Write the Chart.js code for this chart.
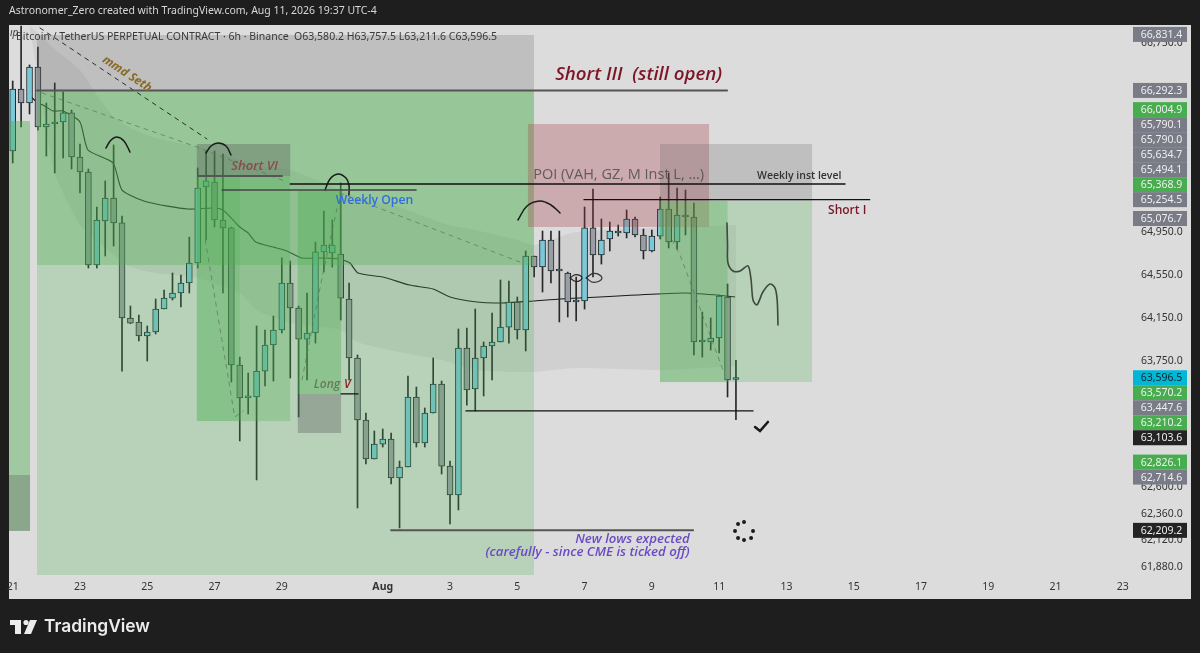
<!DOCTYPE html>
<html><head><meta charset="utf-8">
<style>html,body{margin:0;padding:0;background:#1e1e1e}canvas{display:block}</style>
<script src="https://cdn.jsdelivr.net/npm/chart.js@4"></script></head>
<body><canvas id="c" width="1200" height="653"></canvas>
<script>
// ---------- candles (6h, index 0 = Jul 21 00:00) ----------
const open =[65715,66306,66172,66517,65943,65972,65991,66077,65658,65516,64641,65053,65270,65035,64148,64111,63981,64018,64231,64333,64380,64473,64660,65374,65421,65063,64988,63714,63411,63420,63658,63898,64037,64473,64241,63953,64009,64763,64753,64744,64324,63778,63209,62854,62990,63036,62682,62781,63420,63000,63273,63539,62790,62528,63870,63493,63778,63889,63926,64064,64296,64037,64725,64622,64875,64585,64566,64296,64306,64988,64735,64884,64941,64941,65072,64922,64772,64912,65166,64856,65091,65091,63926,63926,63963,64343,63580.2];
const high =[66383,66912,66537,66710,66172,66364,66278,66105,65781,65544,65185,65431,65772,65100,64259,64176,64074,64324,64408,64566,64548,64903,65554,65715,65715,65686,64995,63787,63640,64074,64037,64166,64707,64678,64259,64380,64856,65147,65063,65412,64473,63806,63273,63109,63127,63091,62836,63612,63511,63319,63778,63566,62836,64046,64055,64231,63926,64194,64501,64492,64343,64772,64725,64959,64959,64959,64575,64529,65185,65355,65072,65044,65016,65157,65091,64978,64969,65279,65506,65364,65345,65223,64203,64148,64361,64464,63757.5];
const low  =[65601,65943,66067,65914,65667,65506,65648,65544,65317,64613,64613,64725,64819,63658,64095,63935,63750,64000,64231,64315,64250,64380,64613,64875,64997,64380,63557,63018,63264,62664,63521,63566,64009,63594,63237,63576,63916,64576,64622,64129,63576,62411,62809,62854,62963,62628,62231,62781,62963,62963,63273,62718,62267,62393,63346,63292,63429,63576,63926,63916,63953,63843,64529,64389,64473,64111,64157,64120,64231,64529,64650,64772,64912,64894,64903,64697,64763,64884,64800,64790,64922,63806,63787,63852,63824,63420,63211.6];
const close=[66306,66172,66517,65943,65972,65991,66077,65658,65516,64641,65063,65270,65035,64148,64101,63981,64018,64231,64333,64380,64473,64660,65364,65431,65063,64988,63714,63411,63420,63658,63898,64037,64473,64241,63953,64009,64763,64828,64828,64333,63778,63209,62854,62990,63036,62682,62781,63420,63000,63273,63539,62790,62528,63870,63484,63778,63889,63926,64064,64296,64037,64725,64622,64875,64585,64594,64296,64306,64988,64735,64875,64959,64959,65072,64922,64772,64912,65166,64856,65110,65100,63926,63935,63963,64352,63576,63596.5];

// ---------- axis ticks ----------
const xTickLabels=["21","23","25","27","29","Aug","3","5","7","9","11","13","15","17","19","21","23"];
const xTickIndex=[0,8,16,24,32,44,52,60,68,76,84,92,100,108,116,124,132];
const yTicks=[66750,64950,64550,64150,63750,62600,62360,62120,61880];

// ---------- moving average ----------
const maIdx=[1.94,3,3.6,4.8,6,8,8.95,11.93,13,16,20.85,23.8,25,26.2,27,28,28.9,30.95,32.6,34.4,36.9,38.9,40.1,41.05,44,47.2,50,52,55.2,57.9,61.9,65.1,79.7,83.75,85.9];
const maVal=[66249,66172,66153,66096,66096,65991,65724,65601,65345,65232,65166,65176,65157,65063,64997,64941,64856,64809,64772,64707,64707,64697,64660,64566,64529,64454,64417,64343,64296,64287,64306,64324,64380,64361,64343];

// ---------- cloud band ----------
const bandIdx=[2,3,5,8,10,12,14,17,22,27,29,33,39,41,46,51,55,60,62,67,77,86];
const bandUp =[66912,66845,66691,66489,66249,66039,65934,65838,65753,65629,65582,65535,65345,65279,65185,65035,64969,64875,64828,64950,64988,65016];
const bandLow=[66912,66421,65506,65016,64875,64735,64622,64566,64520,64380,64222,64101,64037,63926,63833,63760,63668,63649,63649,63686,63668,63704];

// ---------- position zones ----------
const zoneLeft  =[2.89,2.89,2.89,-0.44,-0.44,21.9,21.9,21.9,33.9,33.9,61.27,76.97,76.97,76.97];
const zoneRight =[61.98,61.98,61.98,2.06,2.06,33,33,27,39.05,39.05,82.8,95.05,95.05,85];
const zoneTop   =[66287,66287,66826,66000,62709,65781,65478,65478,65345,63447,65972,65781,65242,65242];
const zoneBottom=[61809,64641,66287,62204,62204,65478,63200,63200,63447,63091,64997,65242,63557,63557];
const zoneFill=["rgba(76,175,80,.25)","rgba(76,175,80,.31)","rgba(90,90,90,.22)","rgba(76,175,80,.42)","rgba(90,90,90,.3)","rgba(90,90,90,.35)","rgba(76,175,80,.3)","rgba(76,175,80,.2)","rgba(76,175,80,.4)","rgba(90,90,90,.35)","rgba(170,60,70,.3)","rgba(90,90,90,.22)","rgba(76,175,80,.25)","rgba(76,175,80,.3)"];

// ---------- horizontal levels ----------
const levelFrom =[2.89,33,24.9,22.03,67.93,53.9,45,39.05];
const levelTo   =[84.94,98.97,47.96,32.02,101.9,88.03,80.9,41.06];
const levelPrice=[66292.3,65402,65345,65478,65254.5,63292,62209.2,63447.6];
const levelColor=["#555","#111","#444","#555","#111","#111","#555","#111"];
const levelWidth=[2,1.3,1.5,2,1.3,1.3,2,1.3];

// ---------- hand-drawn strokes [index, price] ----------
const arcA=[[11.09,65743],[11.69,65819],[12.4,65848],[13.23,65810],[13.95,65705]];
const arcB=[[22.98,65696],[23.58,65762],[24.41,65791],[25.36,65762],[25.96,65677]];
const arcC=[[37.14,65345],[37.73,65449],[38.68,65497],[39.63,65459],[39.98,65393],[39.98,65298]];
const arcD=[[60.08,65063],[61.16,65195],[62.7,65242],[64,65204],[65.08,65129]];
const squiggle=[[84.93,65035],[85,64828],[85.05,64660],[85.65,64585],[86.5,64585],[87.43,64632],[87.8,64501],[88.03,64315],[88.5,64269],[89.2,64389],[90.05,64464],[90.65,64426],[90.9,64315],[91,64083]];
const tick=[[88.27,63145],[88.86,63109],[89.8,63191]];
const ringA=[[66.27,64520],[66.98,64552],[67.69,64520],[66.98,64487],[66.27,64520]];
const ringB=[[68.17,64520],[69.12,64562],[70.07,64520],[69.12,64478],[68.17,64520]];
const dots=[[86.96,62285],[86.25,62267],[85.89,62204],[86.25,62141],[86.96,62123],[87.8,62141],[88.03,62204]];
const dashMmd=[[3.25,66893],[23.1,65829]];
const dashA=[[3.48,66268],[21.9,65753],[32.6,65421]];
const dashB=[[38.9,65317],[60.3,64669]];
const dashC=[[22.9,64875],[26.4,63237],[27.4,63290]];
const dashD=[[34.4,63576],[36.8,64529],[38.6,65185]];
const dashE=[[78.4,64875],[79.35,64735],[84.46,63668]];

// ---------- price tags ----------
const tagPrice=[66831.4,66292.3,66004.9,65790.1,65790.0,65634.7,65494.1,65368.9,65254.5,65076.7,63596.5,63570.2,63447.6,63210.2,63103.6,62826.1,62714.6,62209.2];
const tagKind =["g","g","v","g","g","g","g","v","g","g","c","v","g","v","k","v","g","k"];
const tagFill={g:"#797b87",v:"#47ad4f",c:"#00b7d6",k:"#232323"};
const lastPrice=63596.5;

// ---------- notes ----------
const noteText=["Short III  (still open)","mmd Seth","Short VI","Weekly Open","POI (VAH, GZ, M Inst L, ...)","Weekly inst level","Short I","Long","V","New lows expected","(carefully - since CME is ticked off)"];
const noteIdx=[64.5,13.6,26,38.4,61.9,88.5,96.95,35.8,39.4,80.5,80.5];
const notePrice=[66440,66450,65573,65242,65487,65478,65147,63530,63530,62132,62016];
const noteFont=["italic 600 18.7px 'Open Sans'","italic 700 11.8px 'Open Sans'","italic 600 13px 'Open Sans'","600 12.2px 'Open Sans'","14.5px 'Open Sans'","600 10.5px 'Open Sans'","600 12px 'Open Sans'","italic 600 12px 'Open Sans'","italic 600 12px 'Open Sans'","italic 600 13.2px 'Open Sans'","italic 600 13.2px 'Open Sans'"];
const noteColor=["#7c1626","#8a6a22","#8a4a4e","#2f6ee0","rgba(70,70,70,.8)","#333","#7c1626","#6b7a5a","#8a2020","#6a4bc4","#6a4bc4"];
const noteAlign=["left","center","left","left","left","left","left","left","left","right","right"];
const noteAngle=[0,33,0,0,0,0,0,0,0,0,0];

const headerText="Astronomer_Zero created with TradingView.com, Aug 11, 2026 19:37 UTC-4";
const legendText="Bitcoin / TetherUS PERPETUAL CONTRACT · 6h · Binance  O63,580.2 H63,757.5 L63,211.6 C63,596.5";

const axisFont="'Noto Sans'";
const xy=a=>a.map(p=>({x:p[0],y:p[1]}));
const stroke=(pts,color,width,dash,tension,ord)=>({type:"line",data:xy(pts),borderColor:color,borderWidth:width,borderDash:dash||[],tension:tension||0,pointRadius:0,fill:false,order:ord||1,borderCapStyle:"round"});
const idx=open.map((_,i)=>i);
const upColor="#7cc8d8",downColor="#9a9da3";

const datasets=[
 {type:"line",data:bandIdx.map((x,i)=>({x,y:bandUp[i]})),borderWidth:0,pointRadius:0,tension:.2,fill:"+1",backgroundColor:"rgba(90,90,90,.09)",order:20},
 {type:"line",data:bandIdx.map((x,i)=>({x,y:bandLow[i]})),borderWidth:0,pointRadius:0,tension:.2,fill:false,order:20},
 {type:"line",data:maIdx.map((x,i)=>({x,y:maVal[i]})),borderColor:"#1a1a1a",borderWidth:1.1,pointRadius:0,tension:.2,fill:false,order:12},
 {type:"bar",data:idx.map(i=>({x:i,y:[low[i],high[i]]})),backgroundColor:"#26282a",barThickness:1,grouped:false,order:11},
 {type:"bar",data:idx.map(i=>({x:i,y:[open[i],close[i]]})),backgroundColor:idx.map(i=>close[i]>=open[i]?upColor:downColor),borderColor:"#1f292b",borderWidth:1,borderSkipped:false,barThickness:6,grouped:false,minBarLength:2,order:10},
];
levelPrice.forEach((p,i)=>datasets.push(stroke([[levelFrom[i],p],[levelTo[i],p]],levelColor[i],levelWidth[i])));
[arcA,arcB,arcC,arcD].forEach(a=>datasets.push(stroke(a,"#1a1a1a",1.5,null,.4)));
datasets.push(stroke(squiggle,"#3d4a3d",1.6,null,.3));
datasets.push(stroke(tick,"#1a1a1a",2.6));
datasets.push(stroke(ringA,"#222",1.2,null,.5));
datasets.push(stroke(ringB,"#333",1.2,null,.5));
datasets.push(stroke(dashMmd,"#2c2c2c",1,[4,5]));
[dashA,dashB,dashC,dashD,dashE].forEach(a=>datasets.push(stroke(a,"rgba(95,120,95,.75)",1,[4,5])));
datasets.push({type:"scatter",data:xy(dots),pointRadius:2,pointBackgroundColor:"#1a1a1a",pointBorderWidth:0,showLine:false,order:1});

const paneZones={id:"paneZones",
 beforeDraw(ch){
  const g=ch.ctx,a=ch.chartArea,x=ch.scales.x,y=ch.scales.y;
  g.save();g.fillStyle="#1e1e1e";g.fillRect(0,0,ch.width,ch.height);
  g.fillStyle="#dcdcdc";g.fillRect(a.left,a.top,y.right-a.left,x.bottom-a.top);g.restore();
 },
 afterDatasetDraw(ch,args){
  if(args.index!==4)return;
  const g=ch.ctx,x=ch.scales.x,y=ch.scales.y;
  g.save();
  zoneLeft.forEach((_,i)=>{
   const l=x.getPixelForValue(zoneLeft[i]),r=x.getPixelForValue(zoneRight[i]);
   const t=y.getPixelForValue(zoneTop[i]),b=y.getPixelForValue(zoneBottom[i]);
   g.fillStyle=zoneFill[i];g.fillRect(l,t,r-l,b-t);
  });
  g.restore();
 },
 afterDraw(ch){
  const g=ch.ctx,x=ch.scales.x,y=ch.scales.y;
  g.save();
  noteText.forEach((s,i)=>{
   g.save();
   g.translate(x.getPixelForValue(noteIdx[i]),y.getPixelForValue(notePrice[i]));
   g.rotate(noteAngle[i]*Math.PI/180);
   g.font=noteFont[i];g.fillStyle=noteColor[i];g.textAlign=noteAlign[i];g.textBaseline="middle";
   g.fillText(s,0,0);g.restore();
  });
  const pos=tagPrice.map(p=>y.getPixelForValue(p));
  const anchor=tagPrice.indexOf(lastPrice),gap=15;
  for(let i=anchor-1;i>=0;i--)pos[i]=Math.min(pos[i],pos[i+1]-gap);
  for(let i=anchor+1;i<pos.length;i++)pos[i]=Math.max(pos[i],pos[i-1]+gap);
  g.font="10.5px "+axisFont;g.textAlign="center";g.textBaseline="middle";
  tagPrice.forEach((p,i)=>{
   g.fillStyle=tagFill[tagKind[i]];g.fillRect(y.left-2,pos[i]-7.5,54,15);
   g.fillStyle=tagKind[i]==="c"?"#10222a":"#eeeeee";
   g.fillText(p.toLocaleString("en-US",{minimumFractionDigits:1,maximumFractionDigits:1}),y.left+26.5,pos[i]+.5);
  });
  g.textAlign="left";g.textBaseline="middle";
  g.font="10.5px "+axisFont;g.fillStyle="#d8d8d8";g.fillText(headerText,9,11);
  g.fillStyle="#3a3a3a";g.fillText(legendText,16,37);
  g.font="italic 10px "+axisFont;g.fillText("ıp",10,33);
  g.fillStyle="#ececec";
  g.fillRect(10,620,11,5);g.fillRect(15,620,6,14);
  g.beginPath();g.arc(26,622.5,2.6,0,7);g.fill();
  g.beginPath();g.moveTo(30,620);g.lineTo(37,620);g.lineTo(31,634);g.lineTo(24,634);g.closePath();g.fill();
  g.font="600 17.4px Inter";g.fillText("TradingView",44,627);
  g.restore();
 }};

new Chart(document.getElementById("c"),{
 data:{datasets},
 plugins:[paneZones],
 options:{
  responsive:false,animation:false,
  layout:{padding:{left:9,right:9,top:25,bottom:54}},
  plugins:{legend:{display:false},tooltip:{enabled:false},title:{display:false}},
  scales:{
   x:{type:"linear",offset:false,min:-0.44,max:133.45,
      grid:{display:false,drawTicks:false},border:{display:false},
      afterBuildTicks:s=>{s.ticks=xTickIndex.map(v=>({value:v}));},
      afterFit:s=>{s.height=24;},
      ticks:{autoSkip:false,maxRotation:0,padding:6,color:"#333",
       font:c=>({family:"'Noto Sans'",size:10.5,weight:xTickLabels[c.index]==="Aug"?"bold":"normal"}),
       callback:v=>xTickLabels[xTickIndex.indexOf(v)]}},
   y:{type:"logarithmic",position:"right",min:61809.2,max:66922.2,
      grid:{display:false,drawTicks:false},border:{display:false},
      afterBuildTicks:s=>{s.ticks=yTicks.map(v=>({value:v}));},
      afterFit:s=>{s.width=56;},
      ticks:{autoSkip:false,padding:6,color:"#333",font:{family:"'Noto Sans'",size:10.5},
       callback:v=>v.toLocaleString("en-US",{minimumFractionDigits:1,maximumFractionDigits:1})}}
  }
 }
});
</script></body></html>
